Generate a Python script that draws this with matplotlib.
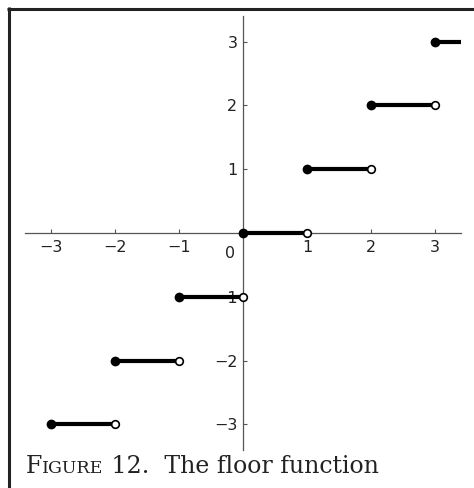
import matplotlib.pyplot as plt
from matplotlib.lines import Line2D

# floor steps: value n on [n, n+1)
step_left = [-3, -2, -1, 0, 1, 2, 3]
step_value = [-3, -2, -1, 0, 1, 2, 3]
x_ticks = [-3, -2, -1, 1, 2, 3]
y_ticks = [-3, -2, -1, 1, 2, 3]
caption_big = ["F", " 12.  The floor function"]
caption_small = "IGURE"

W, H = 474, 488
fig = plt.figure(figsize=(W / 100, H / 100), dpi=100)

# pixel layout: origin at (243, 233), 64 px per unit
ox, oy, ux, uy = 243.0, 233.0, 64.0, 63.8
right_px = 461.0
ax = fig.add_axes([0, 0, right_px / W, 1])
ax.set_xlim(-ox / ux, (right_px - ox) / ux)
ax.set_ylim(-(H - oy) / uy, oy / uy)
ax.patch.set_alpha(0)

for s in ["top", "right"]:
    ax.spines[s].set_visible(False)
ax.spines["left"].set_position(("data", 0))
ax.spines["bottom"].set_position(("data", 0))
ax.spines["left"].set_bounds(-3.4, 3.4)
ax.spines["bottom"].set_bounds(-3.41, 3.41)
for s in ["left", "bottom"]:
    ax.spines[s].set_color("#555555")
    ax.spines[s].set_linewidth(0.9)

ax.set_xticks(x_ticks)
ax.set_yticks(y_ticks)
ax.set_xticklabels([str(v).replace("-", "\u2212") for v in x_ticks])
ax.set_yticklabels([str(v).replace("-", "\u2212") for v in y_ticks])
ax.tick_params(axis="both", direction="in", length=3, width=0.8, color="#555555",
               labelsize=11.5, labelcolor="#222222")
ax.tick_params(axis="x", pad=5)
ax.tick_params(axis="y", pad=4)
ax.text(-0.2, -0.2, "0", ha="center", va="top", fontsize=11.5, color="#222222")

for a, v in zip(step_left, step_value):
    ax.plot([a, a + 1], [v, v], color="black", lw=3, solid_capstyle="butt", zorder=3)
    ax.plot([a], [v], "o", color="black", ms=6, zorder=4)
    ax.plot([a + 1], [v], "o", mfc="white", mec="black", mew=1.2, ms=5.5, zorder=4)

# frame lines on left and top
fig.add_artist(Line2D([8.5 / W, 8.5 / W], [0, 1 - 7 / H], transform=fig.transFigure,
                      color="#222222", lw=2.2, solid_capstyle="butt"))
fig.add_artist(Line2D([7 / W, 1], [1 - 8.5 / H, 1 - 8.5 / H], transform=fig.transFigure,
                      color="#222222", lw=2.2, solid_capstyle="butt"))

# caption with small caps
cy = 1 - 473 / H
t1 = fig.text(26 / W, cy, caption_big[0], fontsize=17, family="DejaVu Serif",
              color="#222222", va="baseline")
fig.canvas.draw()
r = fig.canvas.get_renderer()
x = t1.get_window_extent(r).x1
t2 = fig.text(x / W, cy, caption_small, fontsize=12.5, family="DejaVu Serif",
              color="#222222", va="baseline")
x = t2.get_window_extent(r).x1
fig.text(x / W, cy, caption_big[1], fontsize=17, family="DejaVu Serif",
         color="#222222", va="baseline")

fig.savefig("out.png", dpi=100)
